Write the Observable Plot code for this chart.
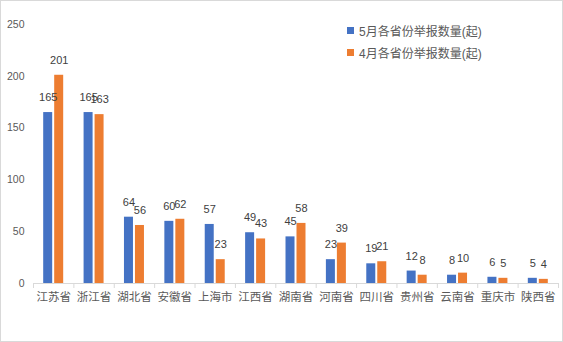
<!DOCTYPE html>
<html><head><meta charset="utf-8">
<script src="https://cdn.jsdelivr.net/npm/d3@7"></script>
<script src="https://cdn.jsdelivr.net/npm/@observablehq/plot@0.6"></script>
<style>
body{margin:0;background:#fff;}
#wrap{position:relative;width:563px;height:342px;font-family:"Liberation Sans","Noto Sans CJK SC",sans-serif;}
#wrap svg{display:block;outline:1px solid #d9d9d9;outline-offset:-1px;}
.legend{position:absolute;left:347px;font-size:12px;color:#595959;display:flex;align-items:center;white-space:nowrap;}
.legend span.sw{display:inline-block;width:7px;height:7px;margin-right:5px;}
</style></head>
<body><div id="wrap"></div>
<script>
const provinces = ["江苏省","浙江省","湖北省","安徽省","上海市","江西省","湖南省","河南省","四川省","贵州省","云南省","重庆市","陕西省"];
const seriesNames = ["5月各省份举报数量(起)","4月各省份举报数量(起)"];
const mayValues = [165,165,64,60,57,49,45,23,19,12,8,6,5];
const aprValues = [201,163,56,62,23,43,58,39,21,8,10,5,4];
const yTicks = [0,50,100,150,200,250];
const colors = ["#4472C4","#ED7D31"];

const W = 563, H = 342, ml = 33, mr = 5, mt = 24, mb = 59;
const step = (W - ml - mr) / provinces.length;
const outer = step * 0.2525, inner = step - outer - 9;

const may = provinces.map((p,i)=>({p, v: mayValues[i]}));
const apr = provinces.map((p,i)=>({p, v: aprValues[i]}));
const font = '"Liberation Sans","Noto Sans CJK SC",sans-serif';

const chart = Plot.plot({
  width: W, height: H,
  marginLeft: ml, marginRight: mr, marginTop: mt, marginBottom: mb,
  style: {fontFamily: font, background: "#fff"},
  x: {domain: provinces, padding: 0, round: false, axis: null},
  y: {domain: [0,250], axis: null},
  marks: [
    Plot.axisY({ticks: yTicks, tickSize: 0, tickPadding: 9, fontSize: 10.5, color: "#595959", label: null}),
    Plot.ruleY([0], {stroke: "#d9d9d9"}),
    Plot.axisX({ticks: provinces, tickSize: 5, tickFormat: () => "", dx: -step/2, stroke: "#d9d9d9", label: null}),
    Plot.axisX({ticks: provinces.slice(-1), tickSize: 5, tickFormat: () => "", dx: step/2, stroke: "#d9d9d9", label: null}),
    Plot.axisX({ticks: provinces, tickSize: 0, tickPadding: 9, fontSize: 11.5, color: "#595959", label: null, fontFamily: '"Noto Sans CJK SC",sans-serif'}),
    Plot.barY(may, {x: "p", y: "v", fill: colors[0], insetLeft: outer, insetRight: inner}),
    Plot.barY(apr, {x: "p", y: "v", fill: colors[1], insetLeft: inner, insetRight: outer}),
    Plot.text(may, {x: "p", y: "v", text: d => String(d.v), dx: (outer + 4.5) - step/2, dy: -15, fontSize: 11, fill: "#404040", lineAnchor: "middle"}),
    Plot.text(apr, {x: "p", y: "v", text: d => String(d.v), dx: step/2 - (outer + 4.5), dy: -15, fontSize: 11, fill: "#404040", lineAnchor: "middle"})
  ]
});
const wrap = document.getElementById("wrap");
wrap.appendChild(chart);
seriesNames.forEach((n,i)=>{
  const d = document.createElement("div");
  d.className = "legend";
  d.style.top = (22 + i*22) + "px";
  d.innerHTML = `<span class="sw" style="background:${colors[i]}"></span><span>${n}</span>`;
  wrap.appendChild(d);
});
</script></body></html>
